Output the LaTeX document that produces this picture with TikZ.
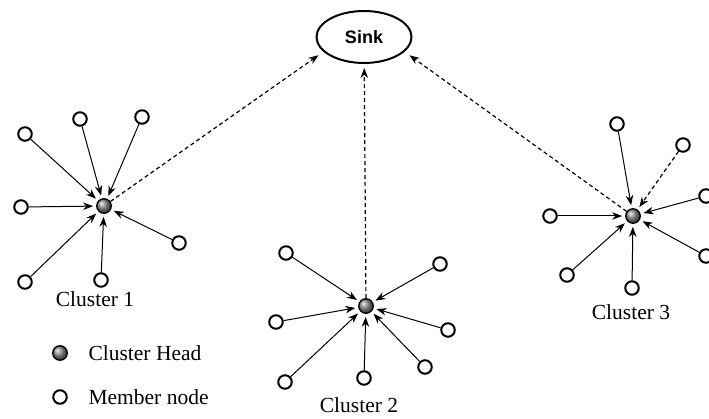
\documentclass[tikz,border=0pt]{standalone}
\usepackage{fontspec}
\setmainfont{Liberation Serif}
\newfontfamily\sinkfont{Liberation Sans}
\usetikzlibrary{arrows.meta, shapes.geometric}

\tikzset{
  member/.style={circle, draw, line width=2pt, minimum size=13.5pt, inner sep=0pt, fill=white},
  head/.style={circle, draw, line width=1.3pt, minimum size=14.5pt, inner sep=0pt, ball color=black!45},
  link/.style={->, line width=1pt, shorten >=3pt},
  uplink/.style={->, line width=1.2pt, dash pattern=on 4pt off 3pt},
  lbl/.style={font=\fontsize{21.5}{25}\selectfont}
}

\begin{document}
\begin{tikzpicture}[>={Stealth[length=10pt,width=7.5pt]}, x=1pt, y=-1pt]
  \useasboundingbox (0,0) rectangle (709,419);
  % sink
  \node[ellipse, draw, line width=2pt, minimum width=95pt, minimum height=52pt, inner sep=0pt,
        font=\sinkfont\bfseries\fontsize{18}{20}\selectfont] (sink) at (364,37) {Sink};
  % cluster heads
  \node[head] (h1) at (104,206) {};
  \node[head] (h2) at (366,306) {};
  \node[head] (h3) at (633,216) {};
  % cluster 1
  \foreach \n/\x/\y in {a/25/134, b/80/119, c/142/117, d/21/207, e/179/243, f/25/282, g/101/280}{
    \node[member] (m1\n) at (\x,\y) {};
    \draw[link] (m1\n) -- (h1);
  }
  % cluster 2
  \foreach \n/\x/\y in {a/286/253, b/440/264, c/276/322, d/448/330, e/285/382, f/364/378, g/425/367}{
    \node[member] (m2\n) at (\x,\y) {};
    \draw[link] (m2\n) -- (h2);
  }
  % cluster 3
  \foreach \n/\x/\y in {a/617/124, c/550/216, d/567/275, e/632/288, f/706/196, g/706/256}{
    \node[member] (m3\n) at (\x,\y) {};
    \draw[link] (m3\n) -- (h3);
  }
  \node[member] (m3b) at (683,145) {};
  \draw[uplink, shorten >=3pt] (m3b) -- (h3);
  % heads to sink
  \draw[uplink, shorten >=6pt] (h1) -- (sink.200);
  \draw[uplink, shorten >=4pt] (h2) -- (sink);
  \draw[uplink, shorten >=6pt] (h3) -- (sink.340);
  % labels
  \node[lbl] (l1) at (95,299) {Cluster 1};
  \node[lbl] (l2) at (359,405) {Cluster 2};
  \node[lbl] (l3) at (631,312) {Cluster 3};
  % legend
  \node[head] (kh) at (60,353) {};
  \node[lbl, anchor=west] (kht) at (85,353) {Cluster Head};
  \node[member] (km) at (60,397) {};
  \node[lbl, anchor=west] (kmt) at (85,397) {Member node};
\end{tikzpicture}
\end{document}
